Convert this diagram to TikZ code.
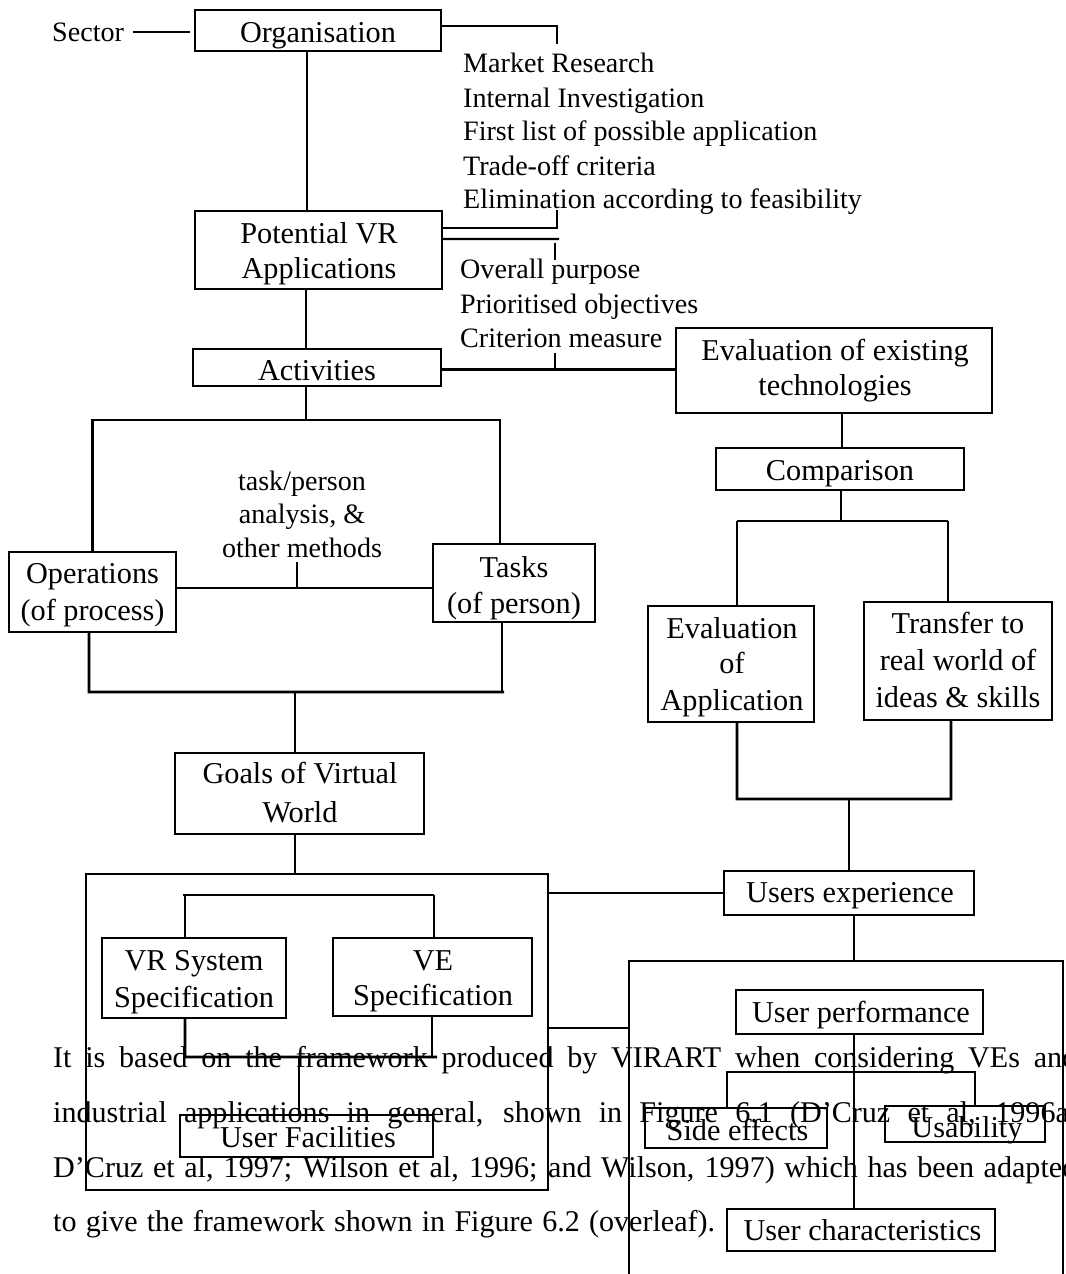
\documentclass[tikz,border=0pt]{standalone}
\usepackage{fontspec}
\setmainfont{Liberation Serif}
\begin{document}
\begin{tikzpicture}[x=1bp,y=-1bp,
  box/.style={draw, line width=2.8bp, inner sep=0pt, outer sep=0pt},
  btxt/.style={anchor=base, inner sep=0pt, font=\fontsize{30.4}{36}\selectfont},
  ltxt/.style={anchor=base west, inner sep=0pt, font=\fontsize{28.2}{34}\selectfont},
  mtxt/.style={anchor=base, inner sep=0pt, font=\fontsize{28.2}{34}\selectfont},
  ptxt/.style={anchor=base west, inner sep=0pt, font=\fontsize{30.2}{36}\selectfont},
  conn/.style={line width=2.8bp},
  thinc/.style={line width=2.1bp}]
\useasboundingbox (0,0) rectangle (1066,1274);

% ---------- boxes ----------
\node[box, minimum width=246bp, minimum height=41bp] (org) at (318,30.5) {};
\node[box, minimum width=247bp, minimum height=78bp] (pot) at (318.5,250) {};
\node[box, minimum width=248bp, minimum height=37bp] (act) at (317,367.5) {};
\node[box, minimum width=316bp, minimum height=85bp] (evex) at (834,370.5) {};
\node[box, minimum width=248bp, minimum height=42bp] (comp) at (840,469) {};
\node[box, minimum width=166bp, minimum height=116bp] (evapp) at (731,664) {};
\node[box, minimum width=188bp, minimum height=118bp] (trans) at (958,661) {};
\node[box, minimum width=167bp, minimum height=80bp] (ops) at (92.5,592) {};
\node[box, minimum width=162bp, minimum height=78bp] (tasks) at (514,583) {};
\node[box, minimum width=249bp, minimum height=81bp] (goals) at (299.5,793.5) {};
\node[box, minimum width=462bp, minimum height=316bp] (big) at (317,1032) {};
\node[box, minimum width=184bp, minimum height=80bp] (vrsys) at (194,978) {};
\node[box, minimum width=199bp, minimum height=78bp] (vespec) at (432.5,977) {};
\node[box, minimum width=253bp, minimum height=42bp] (ufac) at (306.5,1136) {};
\node[box, minimum width=250bp, minimum height=44bp] (uexp) at (849,893) {};
\node[box, minimum width=247bp, minimum height=44bp] (uperf) at (859.5,1012) {};
\node[box, minimum width=182bp, minimum height=40bp] (side) at (736,1128) {};
\node[box, minimum width=160bp, minimum height=36bp] (usab) at (965,1124) {};
\node[box, minimum width=268bp, minimum height=42bp] (uchar) at (861,1230) {};

% ---------- coordinates ----------
\coordinate (s1) at (133,32);
\coordinate (s2) at (190,32);
\coordinate (l1) at (557,44);
\coordinate (l2) at (557,210);
\coordinate (l2b) at (559,239);
\coordinate (tk1a) at (555,243);
\coordinate (tk1b) at (555,260);
\coordinate (tk2a) at (555,353);
\coordinate (tk2b) at (555,369.5);
\coordinate (v307) at (307,0);
\coordinate (v306) at (306,0);
\coordinate (tf) at (306,420);
\coordinate (mid) at (297,588);
\coordinate (midt) at (297,562);
\coordinate (bl) at (89,692);
\coordinate (br) at (504,692);
\coordinate (v295) at (295,692);
\coordinate (i1) at (183,895);
\coordinate (i2) at (434,895);
\coordinate (j1) at (185,1057);
\coordinate (j2) at (437,1057);
\coordinate (v299) at (299,1057);
\coordinate (fl) at (629,1028);
\coordinate (v842) at (842,0);
\coordinate (cb) at (841,521);
\coordinate (hl) at (737,521);
\coordinate (hr) at (948,521);
\coordinate (bb) at (737,799);
\coordinate (v849) at (849,799);
\coordinate (v854) at (854,961);
\coordinate (fa) at (629,1290);
\coordinate (fb) at (629,961);
\coordinate (fc) at (1063,961);
\coordinate (fd) at (1063,1290);
\coordinate (ul) at (727,1072);
\coordinate (ur) at (975,1072);

% ---------- connectors ----------
\draw[conn] (s1) -- (s2);
\draw[conn] ([yshift=4.5bp]org.east) -| (l1);
\draw[conn] (org.south -| v307) -- (pot.north -| v307);
\draw[conn] ([yshift=22bp]pot.east) -| (l2);
\draw[thinc] ([yshift=11bp]pot.east) -- (l2b);
\draw[conn] (tk1a) -- (tk1b);
\draw[thinc] (pot.south -| v306) -- (act.north -| v306);
\draw[conn] ([yshift=-2bp]act.east) -- ([yshift=-2bp]act.east -| evex.west);
\draw[conn] (tk2a) -- (tk2b);
\draw[conn] (act.south -| v306) -- (tf);
\draw[conn] (ops.north) |- (tf) -| ([xshift=-14bp]tasks.north);
\draw[conn] (ops.east |- mid) -- (tasks.west |- mid);
\draw[thinc] (mid) -- (midt);
\draw[conn] ([xshift=-3.5bp]ops.south) -- (bl) -- (br);
\draw[conn] ([xshift=-12bp]tasks.south) -- ([xshift=-12bp]tasks.south |- bl);
\draw[thinc] (v295) -- (goals.north -| v295);
\draw[thinc] (goals.south -| v295) -- (big.north -| v295);
\draw[conn] (i1) -- (i2);
\draw[conn] ([xshift=-9bp]vrsys.north) -- ([xshift=-9bp]vrsys.north |- i1);
\draw[conn] ([xshift=1.5bp]vespec.north) -- ([xshift=1.5bp]vespec.north |- i1);
\draw[conn] ([xshift=-9bp]vrsys.south) -- (j1) -- (j2);
\draw[conn] ([xshift=-0.5bp]vespec.south) -- ([xshift=-0.5bp]vespec.south |- j1);
\draw[thinc] (v299) -- (ufac.north -| v299);
\draw[thinc] (big.east |- uexp.west) -- (uexp.west);
\draw[conn] (big.east |- fl) -- (fl);
\draw[conn] (evex.south -| v842) -- (comp.north -| v842);
\draw[conn] (comp.south -| cb) -- (cb);
\draw[conn] (hl) -- (hr);
\draw[conn] ([xshift=6bp]evapp.north) -- ([xshift=6bp]evapp.north |- hl);
\draw[conn] ([xshift=-10bp]trans.north) -- ([xshift=-10bp]trans.north |- hr);
\draw[conn] ([xshift=6bp]evapp.south) -- (bb) -| ([xshift=-7bp]trans.south);
\draw[conn] (v849) -- (uexp.north);
\draw[conn] (uexp.south -| v854) -- (v854);
\draw[conn] (fa) -- (fb) -- (fc) -- (fd);
\draw[conn] (uperf.south -| v854) -- (uchar.north -| v854);
\draw[conn] (side.north -| ul) |- (ur) -- (usab.north -| ur);

% ---------- texts ----------
\node[ltxt] (sector) at (52,41) {Sector};
\node[btxt] (t-org) at (318,42) {Organisation};
\node[btxt] (t-pot1) at (319,243) {Potential VR};
\node[btxt] (t-pot2) at (319,278) {Applications};
\node[btxt] (t-act) at (317,380) {Activities};
\node[ltxt] (m1) at (463,72) {Market Research};
\node[ltxt] (m2) at (463,107) {Internal Investigation};
\node[ltxt] (m3) at (463,140) {First list of possible application};
\node[ltxt] (m4) at (463,175) {Trade-off criteria};
\node[ltxt] (m5) at (463,208) {Elimination according to feasibility};
\node[ltxt] (o1) at (460,278) {Overall purpose};
\node[ltxt] (o2) at (460,313) {Prioritised objectives};
\node[ltxt] (o3) at (460,347) {Criterion measure};
\node[btxt] (t-evex1) at (835,360) {Evaluation of existing};
\node[btxt] (t-evex2) at (835,395) {technologies};
\node[btxt] (t-comp) at (840,480) {Comparison};
\node[mtxt] (a1) at (302,490) {task/person};
\node[mtxt] (a2) at (302,523.5) {analysis, \&};
\node[mtxt] (a3) at (302,557) {other methods};
\node[btxt] (t-ops1) at (92.5,583) {Operations};
\node[btxt] (t-ops2) at (92.5,620) {(of process)};
\node[btxt] (t-tasks1) at (514,577) {Tasks};
\node[btxt] (t-tasks2) at (514,613) {(of person)};
\node[btxt] (t-ea1) at (732,638) {Evaluation};
\node[btxt] (t-ea2) at (732,673) {of};
\node[btxt] (t-ea3) at (732,710) {Application};
\node[btxt] (t-tr1) at (958,633) {Transfer to};
\node[btxt] (t-tr2) at (958,670) {real world of};
\node[btxt] (t-tr3) at (958,707) {ideas \& skills};
\node[btxt] (t-goals1) at (300,783) {Goals of Virtual};
\node[btxt] (t-goals2) at (300,822) {World};
\node[btxt] (t-vr1) at (194,970) {VR System};
\node[btxt] (t-vr2) at (194,1007) {Specification};
\node[btxt] (t-ve1) at (433,970) {VE};
\node[btxt] (t-ve2) at (433,1005) {Specification};
\node[btxt] (t-uf) at (308,1147) {User Facilities};
\node[btxt] (t-uexp) at (850,902) {Users experience};
\node[btxt] (t-uperf) at (861,1022) {User performance};
\node[btxt] (t-side) at (737.5,1140) {Side effects};
\node[btxt] (t-usab) at (967,1137) {Usability};
\node[btxt] (t-uchar) at (862.5,1240) {User characteristics};

% ---------- paragraph ----------
\node[ptxt] (p1) at (53,1067) {\makebox[1024bp][s]{It is based on the framework produced by VIRART when considering VEs and}};
\node[ptxt] (p2) at (53,1122) {\makebox[1024bp][s]{industrial applications in general, shown in Figure 6.1 (D’Cruz et al, 1996a;}};
\node[ptxt] (p3) at (53,1177) {\makebox[1024bp][s]{D’Cruz et al, 1997; Wilson et al, 1996; and Wilson, 1997) which has been adapted}};
\node[ptxt] (p4) at (53,1231) {\makebox[662bp][s]{to give the framework shown in Figure 6.2 (overleaf).}};
\end{tikzpicture}
\end{document}
